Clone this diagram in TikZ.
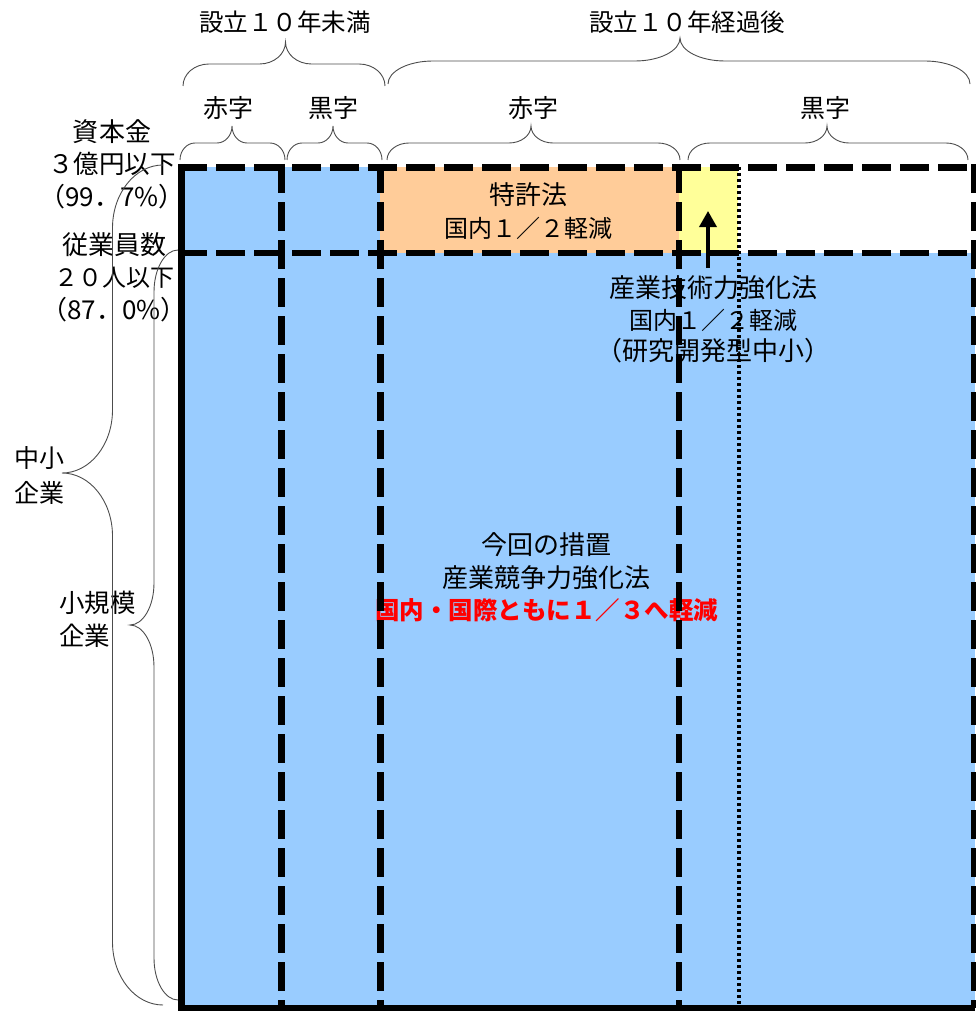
\documentclass[tikz,border=0pt]{standalone}
\usepackage{fontspec}
\setmainfont{Noto Sans CJK JP}
\usetikzlibrary{arrows.meta}
\definecolor{cblue}{HTML}{99CCFF}
\definecolor{corange}{HTML}{FFCC99}
\definecolor{cyellow}{HTML}{FFFF99}
\newcommand\smallline[1]{{\fontsize{24}{24}\selectfont #1}}
\tikzset{
  txt/.style={inner sep=0pt, font=\fontsize{26}{32.5}\selectfont, align=center},
  headtxt/.style={inner sep=0pt, font=\fontsize{24.5}{30}\selectfont, align=center},
  solidframe/.style={line width=6.5pt},
  dashframe/.style={line width=6.5pt, dash pattern=on 28.5pt off 9.5pt},
  dotframe/.style={line width=4pt, dash pattern=on 3pt off 3pt},
  bracestyle/.style={line width=0.9pt, draw=black!70},
  uparrow/.style={line width=3.5pt, -{Triangle[width=17pt,length=16pt]}},
}
% horizontal brace: x1, xtip, x2, ytip, ymid, r
\newcommand\myHbrace[6]{%
  \draw[bracestyle] (#1,{2*#5-#4})
    arc[start angle=180,end angle=270,x radius=#6,y radius={#5-#4}]
    -- ({#2-#6},#5)
    arc[start angle=90,end angle=0,x radius=#6,y radius={#5-#4}]
    arc[start angle=180,end angle=90,x radius=#6,y radius={#5-#4}]
    -- ({#3-#6},#5)
    arc[start angle=270,end angle=360,x radius=#6,y radius={#5-#4}];}
% vertical brace: xend, xtip, y1, ytip, y2, r
\newcommand\myVbrace[6]{%
  \draw[bracestyle] (#1,#3)
    arc[start angle=270,end angle=180,x radius={(#1-#2)/2},y radius=#6]
    -- ({(#1+#2)/2},{#4-#6})
    arc[start angle=0,end angle=90,x radius={(#1-#2)/2},y radius=#6]
    arc[start angle=270,end angle=360,x radius={(#1-#2)/2},y radius=#6]
    -- ({(#1+#2)/2},{#5-#6})
    arc[start angle=180,end angle=90,x radius={(#1-#2)/2},y radius=#6];}
\begin{document}
\begin{tikzpicture}[x=1pt,y=-1pt]
\useasboundingbox (0,0) rectangle (975,1011);
% fills
\fill[cblue] (182,167) rectangle (380,253);
\fill[corange] (380,167) rectangle (679,253);
\fill[cyellow] (679,167) rectangle (738,253);
\fill[cblue] (182,253) rectangle (975,1008);
% header texts
\node[headtxt] (t1) at (285,22) {設立１０年未満};
\node[headtxt] (t2) at (687,22) {設立１０年経過後};
\node[headtxt, font=\fontsize{25}{30}\selectfont] (c1) at (228,108) {赤字};
\node[headtxt, font=\fontsize{25}{30}\selectfont] (c2) at (333,108) {黒字};
\node[headtxt, font=\fontsize{25}{30}\selectfont] (c3) at (533,108) {赤字};
\node[headtxt, font=\fontsize{25}{30}\selectfont] (c4) at (825,108) {黒字};
% header braces
\myHbrace{183}{285.5}{385}{42}{64}{26}
\myHbrace{388}{680}{970}{38}{61}{45}
\myHbrace{180}{232}{285}{126}{143}{15}
\myHbrace{287}{333}{382}{126}{143}{15}
\myHbrace{387}{531}{680}{126}{143}{22}
\myHbrace{688}{827}{968}{126}{143}{22}
% left labels
\node[txt] (cap) at (112,164) {資本金\\{\fontsize{25.5}{25.5}\selectfont ３億円以下}\\（99．7\%）};
\node[txt] (emp) at (114,277) {従業員数\\\smallline{２０人以下}\\（87．0\%）};
\node[txt, align=left, anchor=west, font=\fontsize{25}{35}\selectfont] (sme) at (14,475) {中小\\企業};
\node[txt, align=left, anchor=west, font=\fontsize{25.5}{33}\selectfont] (small) at (59,619.5) {小規模\\企業};
\myVbrace{163}{62}{165}{473}{1005}{63}
\myVbrace{178}{130}{250}{625}{1000}{42}
% cell texts
\node[txt, font=\fontsize{26}{33}\selectfont] (pat) at (528,211.5) {特許法\\\smallline{国内１／２軽減}};
\node[txt, font=\fontsize{26}{31.5}\selectfont] (itl) at (713,319.5) {産業技術力強化法\\\smallline{国内１／２軽減}\\（研究開発型中小）};
\node[txt] (now) at (546.5,577.5) {今回の措置\\産業競争力強化法\\{\fontsize{24.5}{24.5}\selectfont\color{red}\bfseries 国内・国際ともに１／３へ軽減}};
% grid lines
\draw[dashframe] (178,167.5) -- (975,167.5);
\draw[dashframe] (178,253) -- (975,253);
\draw[dashframe] (281.5,164) -- (281.5,1008);
\draw[dashframe] (380.5,164) -- (380.5,1008);
\draw[dashframe] (679,164) -- (679,1008);
\draw[dashframe] (974,164) -- (974,1008);
\draw[dotframe] (738.5,167) -- (738.5,1005);
\draw[solidframe] (181.5,164) -- (181.5,1011);
\draw[solidframe] (178,1008) -- (975,1008);
% arrow
\coordinate (arS) at (708,268);
\coordinate (arE) at (708,211);
\draw[uparrow] (arS) -- (arE);
\end{tikzpicture}
\end{document}
